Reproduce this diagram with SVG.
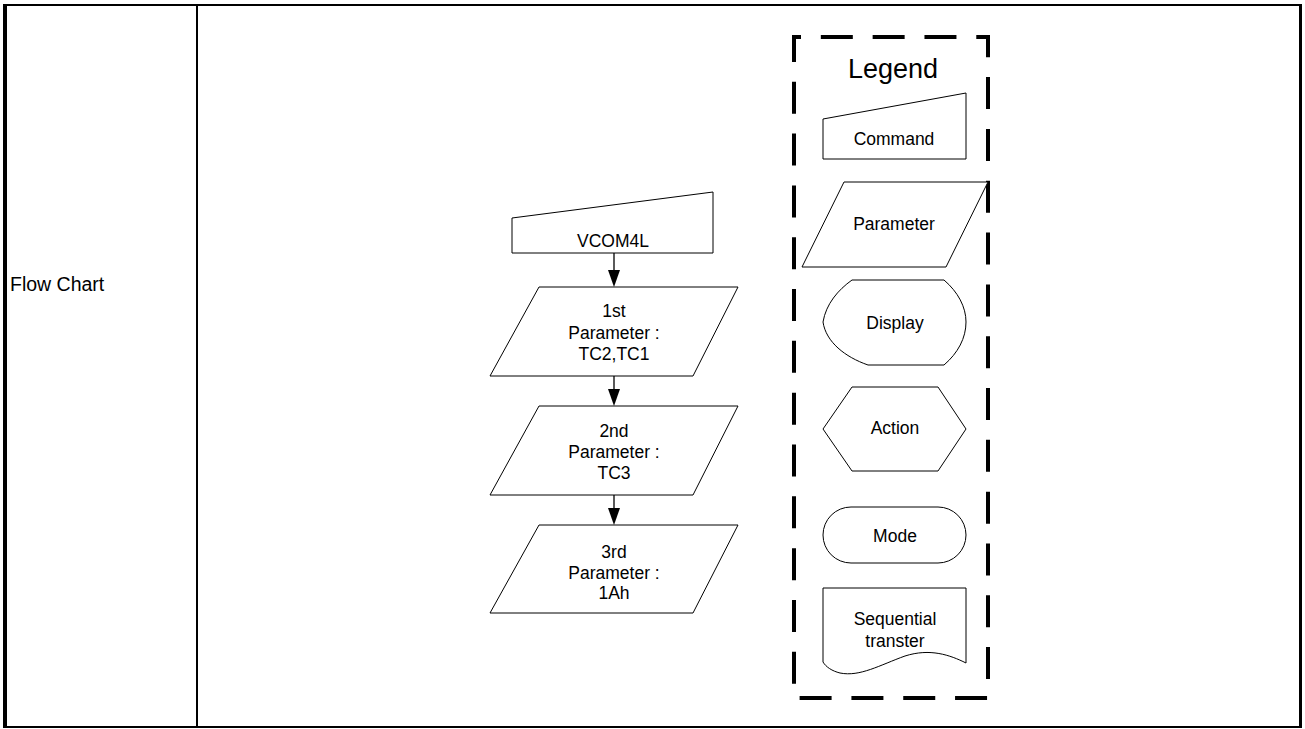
<svg xmlns="http://www.w3.org/2000/svg" width="1305" height="729" viewBox="0 0 1305 729">
<style>
text{font-family:"Liberation Sans",Arial,sans-serif;font-size:17.5px;fill:#000;text-anchor:middle}
.shape{fill:#fff;stroke:#000;stroke-width:1}
.conn line{stroke:#000;stroke-width:1.3}
.conn polygon{fill:#000}
.tbl{stroke:#000;fill:none}
</style>
<rect width="1305" height="729" fill="#fff"/>
<g id="table">
<line class="tbl" x1="3" y1="5" x2="1302" y2="5" stroke-width="2"/>
<line class="tbl" x1="5" y1="4" x2="5" y2="728" stroke-width="4"/>
<line class="tbl" x1="197" y1="5" x2="197" y2="728" stroke-width="2"/>
<line class="tbl" x1="1300.5" y1="4" x2="1300.5" y2="728" stroke-width="3"/>
<line class="tbl" x1="3" y1="727" x2="1302" y2="727" stroke-width="2"/>
<text x="10" y="291" style="text-anchor:start;font-size:19.5px">Flow Chart</text>
</g>
<g id="vcom4l">
<polygon class="shape" points="512,218 713,192 713,253 512,253"/>
<text x="613" y="246.5">VCOM4L</text>
</g>
<g id="param1">
<polygon class="shape" points="539,287 738,287 693,376 490,376"/>
<text x="614" y="317">1st</text>
<text x="614" y="338.5">Parameter :</text>
<text x="614" y="360">TC2,TC1</text>
</g>
<g id="param2">
<polygon class="shape" points="539,406 738,406 693,495 490,495"/>
<text x="614" y="436.5">2nd</text>
<text x="614" y="458">Parameter :</text>
<text x="614" y="479">TC3</text>
</g>
<g id="param3">
<polygon class="shape" points="539,525 738,525 693,613 490,613"/>
<text x="614" y="557.5">3rd</text>
<text x="614" y="578.5">Parameter :</text>
<text x="614" y="599">1Ah</text>
</g>
<g id="connectors" class="conn">
<line x1="614" y1="253" x2="614" y2="272"/>
<polygon points="608,270 620,270 614,287"/>
<line x1="614" y1="376" x2="614" y2="391"/>
<polygon points="608,389 620,389 614,406"/>
<line x1="614" y1="495" x2="614" y2="510"/>
<polygon points="608,508 620,508 614,525"/>
</g>
<g id="legend">
<rect x="794" y="37" width="194" height="661" fill="none" stroke="#000" stroke-width="4" stroke-dasharray="32 19.82" stroke-dashoffset="25"/>
<text x="893" y="78" style="font-size:27px">Legend</text>
</g>
<g id="legend-command">
<polygon class="shape" points="823,119 966,93 966,159 823,159"/>
<text x="894" y="145">Command</text>
</g>
<g id="legend-parameter">
<polygon class="shape" points="844,182 988,182 946,267 802,267"/>
<text x="894" y="230">Parameter</text>
</g>
<g id="legend-display">
<path class="shape" d="M852,280 L944,280 C958,292 966,307 966,322 C966,338 958,353 944,365 L868,365 C845,357 826,342 823,322 C826,304 838,290 852,280 Z"/>
<text x="895" y="328.5">Display</text>
</g>
<g id="legend-action">
<polygon class="shape" points="852,387 938,387 966,429 938,471 852,471 823,429"/>
<text x="895" y="434">Action</text>
</g>
<g id="legend-mode">
<rect class="shape" x="823" y="507" width="143" height="56" rx="28" ry="28"/>
<text x="895" y="541.5">Mode</text>
</g>
<g id="legend-sequential">
<path class="shape" d="M823,588 L966,588 L966,663 C950,655 930,648 905,656 C880,665 860,677 840,673 C832,671 826,667 823,662 Z"/>
<text x="895" y="625">Sequential</text>
<text x="895" y="646.5">transter</text>
</g>
</svg>
